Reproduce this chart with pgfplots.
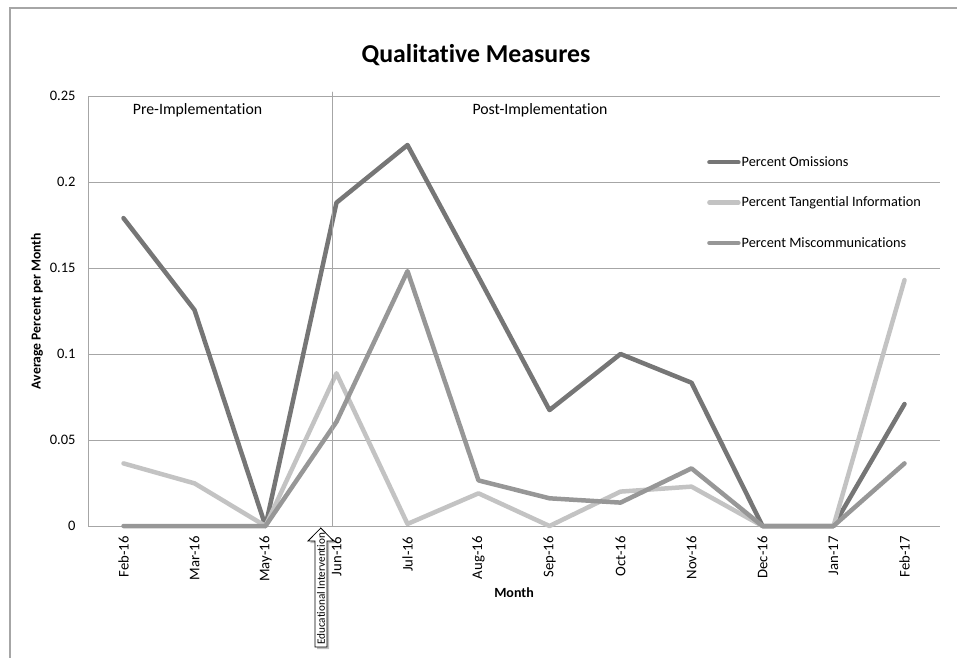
\documentclass[border=0pt]{standalone}
\usepackage{pgfplots}
\pgfplotsset{compat=1.18}
\usepackage{fontspec}
\setmainfont[Ligatures=NoCommon]{Carlito}
\definecolor{omis}{HTML}{767676}
\definecolor{tang}{HTML}{C3C3C3}
\definecolor{misc}{HTML}{979797}
\definecolor{gridc}{HTML}{A6A6A6}
\begin{document}
\begin{tikzpicture}[x=1pt,y=1pt]
\path[use as bounding box] (0,0) rectangle (957,657);
\draw[gridc, line width=1.2pt] (10,-5) -- (10,649) -- (962,649);
\begin{axis}[
  at={(88pt,131pt)}, anchor=south west,
  scale only axis, width=852pt, height=430pt,
  xmin=-0.5, xmax=11.5, ymin=0, ymax=0.25,
  xtick={0,1,2,3,4,5,6,7,8,9,10,11},
  xticklabels={Feb-16,Mar-16,May-16,Jun-16,Jul-16,Aug-16,Sep-16,Oct-16,Nov-16,Dec-16,Jan-17,Feb-17},
  ytick={0,0.05,0.1,0.15,0.2,0.25},
  yticklabels={0,0.05,0.1,0.15,0.2,0.25},
  ymajorgrids, grid style={gridc, line width=1pt},
  axis x line*=bottom, axis y line*=left,
  axis line style={-, gridc, line width=1pt},
  major tick length=0pt,
  clip=false,
  x tick label style={rotate=90, anchor=east, font=\fontsize{14.7}{16}\selectfont},
  y tick label style={font=\fontsize{14.5}{16}\selectfont},
  xticklabel shift=7pt,
  yticklabel shift=9pt,
  xlabel={\textbf{Month}},
  ylabel={\textbf{Average Percent per Month}},
  xlabel style={at={(axis description cs:0.5,-0.156)}, anchor=center, font=\fontsize{14}{16}\selectfont},
  ylabel style={at={(axis description cs:-0.0599,0.5)}, anchor=center, font=\fontsize{13.7}{16}\selectfont},
  legend style={at={(axis description cs:0.7265,0.862)}, anchor=north west, draw=none, fill=none,
    font=\fontsize{14.3}{16}\selectfont, row sep=27pt, inner sep=0pt,
    nodes={inner sep=1pt}},
  legend cell align=left,
  legend image code/.code={\draw[#1, line cap=round] (0pt,0pt) -- (29pt,0pt);},
  every axis plot/.append style={line width=4.5pt, line join=round, line cap=round},
]
\addplot[omis] coordinates {
(0,0.179) (1,0.1256) (2,0) (3,0.1880) (4,0.2215) (5,0.1448) (6,0.0674) (7,0.1) (8,0.0833) (9,0) (10,0) (11,0.0709)};
\addlegendentry{Percent Omissions}
\addplot[tang] coordinates {
(0,0.0364) (1,0.0248) (2,0) (3,0.0888) (4,0.0012) (5,0.019) (6,0) (7,0.02) (8,0.0229) (9,0) (10,0) (11,0.143)};
\addlegendentry{Percent Tangential Information}
\addplot[misc] coordinates {
(0,0) (1,0) (2,0) (3,0.0606) (4,0.1482) (5,0.0265) (6,0.0161) (7,0.0136) (8,0.0335) (9,0) (10,0) (11,0.0364)};
\addlegendentry{Percent Miscommunications}
\addplot[gridc, line width=1pt, forget plot] coordinates {(2.95,0) (2.95,0.2523)};
\end{axis}
\node[font=\bfseries\fontsize{25.8}{30}\selectfont] at (476,602) {Qualitative Measures};
\node[font=\fontsize{15.8}{18}\selectfont] at (197.5,547) {Pre-Implementation};
\node[font=\fontsize{15.8}{18}\selectfont] at (540,547) {Post-Implementation};
% arrow
\fill[black!25] (317,8) -- (329,8) -- (329,114) -- (335,114) -- (322.8,127) -- (310,114) -- (317,114) -- cycle;
\draw[black, fill=white, line width=0.8pt] (315,10) -- (327,10) -- (327,116) -- (333.5,116) -- (320.8,129) -- (308,116) -- (315,116) -- cycle;
\begin{scope}
\clip (315,10) -- (327,10) -- (327,116) -- (333.5,116) -- (320.8,129) -- (308,116) -- (315,116) -- cycle;
\node[rotate=90, anchor=west, inner sep=0pt, font=\fontsize{11.2}{12}\selectfont] at (321,12) {Educational Intervention};
\end{scope}
\end{tikzpicture}
\end{document}
